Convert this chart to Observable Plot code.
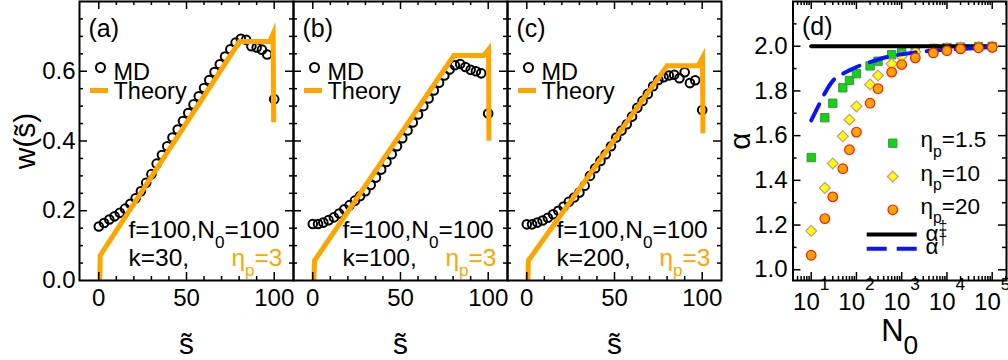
<!DOCTYPE html>
<html><head><meta charset="utf-8">
<script src="https://cdn.jsdelivr.net/npm/d3@7"></script>
<script src="https://cdn.jsdelivr.net/npm/@observablehq/plot@0.6"></script>
<style>
html,body{margin:0;padding:0;background:#fff;}
#chart{position:relative;width:1008px;height:360px;overflow:hidden;background:#fff;}
#chart svg{position:absolute;left:0;top:0;}
</style></head><body><div id="chart"></div>
<script>
// ---------- data: panels (a)-(c) ----------
const panelLetters = ["(a)", "(b)", "(c)"];
const kLabels = ["k=30,", "k=100,", "k=200,"];
const fLabel = "f=100,N_{0}=100";
const etaLabel = "η_{p}=3";
const legendMD = "MD";
const legendTheory = "Theory";

const sMD = [0,3,6,9,12,15,18,21,24,27,30,33,36,39,42,45,48,51,54,57,60,63,66,69,72,75,78,81,84,87,90,93,96,100];
const wMD_a = [0.155,0.165,0.175,0.184,0.194,0.206,0.220,0.236,0.256,0.280,0.305,0.335,0.360,0.385,0.410,0.433,0.457,0.480,0.505,0.528,0.552,0.575,0.598,0.620,0.642,0.663,0.682,0.693,0.690,0.672,0.668,0.662,0.648,0.520];
const wMD_b = [0.162,0.162,0.166,0.173,0.181,0.192,0.204,0.216,0.229,0.242,0.256,0.274,0.295,0.318,0.340,0.362,0.385,0.408,0.430,0.453,0.476,0.500,0.522,0.545,0.567,0.588,0.605,0.617,0.621,0.612,0.604,0.600,0.594,0.479];
const wMD_c = [0.161,0.161,0.166,0.172,0.180,0.190,0.200,0.212,0.226,0.238,0.252,0.272,0.300,0.322,0.343,0.362,0.385,0.410,0.430,0.448,0.470,0.495,0.515,0.535,0.557,0.575,0.583,0.588,0.590,0.580,0.597,0.566,0.574,0.489];

const sTh_a = [0.6, 0.8, 80.2, 97.5, 99.4, 99.7];
const wTh_a = [0.0, 0.072, 0.685, 0.685, 0.707, 0.454];
const sTh_b = [0.6, 1.0, 80.4, 97.5, 100.2, 100.4];
const wTh_b = [0.0, 0.057, 0.645, 0.645, 0.662, 0.401];
const sTh_c = [0.6, 0.9, 80.0, 97.8, 100.2, 100.4];
const wTh_c = [0.0, 0.057, 0.616, 0.616, 0.639, 0.422];

const sDomain = [-11, 111];
const wDomain = [0, 0.8];
const sTicksMajor = [0, 50, 100];
const sTicksMinor = [10, 20, 30, 40, 60, 70, 80, 90];
const wTicksMajor = [0, 0.2, 0.4, 0.6];
const wTicksMinor = [0.05,0.1,0.15,0.25,0.3,0.35,0.45,0.5,0.55,0.65,0.7,0.75];

// ---------- data: panel (d) ----------
const N0 = [10,20,30,50,70,100,200,300,600,1000,2000,5000,10000,20000,50000,100000];
const alpha_eta1_5 = [1.502,1.680,1.745,1.814,1.847,1.877,1.912,1.933,1.962,1.972,1.985,1.990,1.994,1.996,1.998,1.999];
const alpha_eta10  = [1.174,1.366,1.475,1.597,1.671,1.731,1.829,1.869,1.921,1.954,1.975,1.986,1.991,1.994,1.996,1.998];
const alpha_eta20  = [1.065,1.229,1.326,1.452,1.537,1.616,1.745,1.810,1.884,1.918,1.948,1.970,1.980,1.988,1.993,1.995];
const NddLine = [10, 100000];
const alphaDD = [2.0, 2.0];
const NdagLine = [10,15,20,30,50,70,100,200,500,1000,3000,10000,30000,100000];
const alphaDag = [1.668,1.740,1.790,1.845,1.877,1.892,1.907,1.929,1.953,1.964,1.976,1.984,1.990,1.996];
const legendD = ["η_{p}=1.5", "η_{p}=10", "η_{p}=20"];
const legendDD = "α^{‡}";
const legendDag = "α^{†}";
const nDomain = [3.96, 2.07e5];
const aDomain = [0.952, 2.2];
const nTicksMajor = [10, 100, 1000, 10000, 100000];
const nTickLabels = ["10^^{1}", "10^^{2}", "10^^{3}", "10^^{4}", "10^^{5}"];
const nTicksMinor = [5,6,7,8,9,20,30,40,50,60,70,80,90,200,300,400,500,600,700,800,900,2000,3000,4000,5000,6000,7000,8000,9000,20000,30000,40000,50000,60000,70000,80000,90000,200000];
const aTicksMajor = [1.0,1.2,1.4,1.6,1.8,2.0];
const aTicksMinor = [1.1,1.3,1.5,1.7,1.9,2.1];

// ---------- helpers ----------
const NS = "http://www.w3.org/2000/svg";
const FONT = "'Liberation Sans', Arial, Helvetica, sans-serif";
const ORANGE = "#ffa500";
const W = 1008, H = 360, TOP = 1, BOTTOM = 280;
const FH = BOTTOM - TOP;

function tickMarks(FW, xMaj, xMin, yMaj, yMin) {
  const st = {stroke: "black", strokeWidth: 1.5};
  const L = 8, l = 4;
  return [
    Plot.ruleX(xMaj, {x: d => d, insetTop: FH - L, ...st}),
    Plot.ruleX(xMaj, {x: d => d, insetBottom: FH - L, ...st}),
    Plot.ruleX(xMin, {x: d => d, insetTop: FH - l, ...st}),
    Plot.ruleX(xMin, {x: d => d, insetBottom: FH - l, ...st}),
    Plot.ruleY(yMaj, {y: d => d, insetRight: FW - L, ...st}),
    Plot.ruleY(yMaj, {y: d => d, insetLeft: FW - L, ...st}),
    Plot.ruleY(yMin, {y: d => d, insetRight: FW - l, ...st}),
    Plot.ruleY(yMin, {y: d => d, insetLeft: FW - l, ...st})
  ];
}

const baseStyle = {background: "transparent", fontFamily: FONT, fontSize: "24px", overflow: "visible", color: "black"};

function label(txt, opts) {
  return Plot.text([txt], {text: d => d, textAnchor: "start", lineAnchor: "middle", ...opts});
}

function wPanel(i, left, sTh, wTh, wMD) {
  const FW = 214;
  const md = sMD.map((s, j) => ({s, w: wMD[j]}));
  const th = sTh.map((s, j) => ({s, w: wTh[j]}));
  const marks = [
    Plot.dot(md, {x: "s", y: "w", r: 4.3, stroke: "black", strokeWidth: 2, fill: "none"}),
    Plot.line(th, {x: "s", y: "w", stroke: ORANGE, strokeWidth: 5, strokeLinejoin: "miter", strokeLinecap: "butt", strokeMiterlimit: 20}),
    ...tickMarks(FW, sTicksMajor, sTicksMinor, wTicksMajor.slice(1), wTicksMinor),
    Plot.frame({stroke: "black", strokeWidth: 2}),
    Plot.axisX({ticks: sTicksMajor, tickSize: 0, tickPadding: 8, fontSize: 24, label: null}),
    Plot.text(["s̃"], {text: d => d, frameAnchor: "bottom", dy: 73, lineAnchor: "bottom", fontSize: 30}),
    label(panelLetters[i], {frameAnchor: "top-left", dx: 9, dy: 27, fontSize: 25}),
    // legend
    Plot.dot([0], {x: null, y: null, frameAnchor: "top-left", dx: 21, dy: 66, r: 4.5, stroke: "black", strokeWidth: 2, fill: "none"}),
    label(legendMD, {frameAnchor: "top-left", dx: 34, dy: 71, fontSize: 23.5}),
    Plot.ruleY([wDomain[1]], {y: d => d, dy: 89, insetLeft: 11, insetRight: FW - 29, stroke: ORANGE, strokeWidth: 5}),
    label(legendTheory, {frameAnchor: "top-left", dx: 34, dy: 90, fontSize: 23.5}),
    // annotation
    Plot.text([fLabel], {text: d => d, frameAnchor: "bottom-left", dx: 49, dy: -43, textAnchor: "start", lineAnchor: "bottom", fontSize: 24.5}),
    Plot.text([kLabels[i]], {text: d => d, frameAnchor: "bottom-left", dx: 49, dy: -15, textAnchor: "start", lineAnchor: "bottom", fontSize: 24.5}),
    Plot.text([etaLabel], {text: d => d, frameAnchor: "bottom-right", dx: -11, dy: -15, textAnchor: "end", lineAnchor: "bottom", fontSize: 24.5, fill: ORANGE})
  ];
  if (i === 0) {
    marks.push(Plot.axisY({ticks: wTicksMajor, tickSize: 0, tickPadding: 4, tickFormat: d3.format(".1f"), fontSize: 24, label: null}));
    marks.push(Plot.text(["w(s̃)"], {text: d => d, frameAnchor: "left", dx: -54, rotate: -90, textAnchor: "middle", lineAnchor: "middle", fontSize: 30}));
  }
  return Plot.plot({
    width: W, height: H,
    marginLeft: left, marginRight: W - left - FW, marginTop: TOP, marginBottom: H - BOTTOM,
    x: {domain: sDomain, axis: null, label: null},
    y: {domain: wDomain, axis: null, label: null},
    style: baseStyle,
    marks
  });
}

function dPanel() {
  const left = 792.5, right = 1006;
  const FW = right - left;
  const rows = (arr) => N0.map((n, j) => ({n, a: arr[j]}));
  const dd = NddLine.map((n, j) => ({n, a: alphaDD[j]}));
  const dag = NdagLine.map((n, j) => ({n, a: alphaDag[j]}));
  const sq = {symbol: "square", r: 4.7, fill: "#14d214", stroke: "#3c963c", strokeWidth: 1};
  const di = {symbol: "diamond2", r: 4.9, fill: "#ffff00", stroke: "#c4988c", strokeWidth: 1.2};
  const ci = {symbol: "circle", r: 4.8, fill: "#ffa500", stroke: "#ff1a00", strokeWidth: 1.2};
  const rowDy = [138.7, 172, 205.3];
  const markDy = [141.7, 175, 208.3];
  const syms = [sq, di, ci];
  const marks = [
    Plot.dot(rows(alpha_eta1_5), {x: "n", y: "a", ...sq}),
    Plot.dot(rows(alpha_eta10), {x: "n", y: "a", ...di}),
    Plot.line(dd, {x: "n", y: "a", stroke: "black", strokeWidth: 4}),
    Plot.line(dag, {x: "n", y: "a", stroke: "#0a14ff", strokeWidth: 4, strokeDasharray: "18,11", curve: "monotone-x"}),
    Plot.dot(rows(alpha_eta20), {x: "n", y: "a", ...ci}),
    ...tickMarks(FW, nTicksMajor, nTicksMinor, aTicksMajor, aTicksMinor),
    Plot.frame({stroke: "black", strokeWidth: 2}),
    Plot.axisX({ticks: nTicksMajor, tickSize: 0, tickPadding: 12, fontSize: 24, label: null, tickFormat: d => nTickLabels[nTicksMajor.indexOf(d)]}),
    Plot.axisY({ticks: aTicksMajor, tickSize: 0, tickPadding: 5.5, fontSize: 24, label: null, tickFormat: d3.format(".1f")}),
    Plot.text(["N_{0}"], {text: d => d, frameAnchor: "bottom", dy: 60, lineAnchor: "bottom", fontSize: 31}),
    Plot.text(["α"], {text: d => d, frameAnchor: "left", dx: -52.5, rotate: -90, textAnchor: "middle", lineAnchor: "middle", fontSize: 30}),
    label("(d)", {frameAnchor: "top-left", dx: 9, dy: 25, fontSize: 25}),
    // legend
    ...legendD.map((t, j) => Plot.dot([0], {x: null, y: null, frameAnchor: "top-left", dx: 99.8, dy: markDy[j], ...syms[j]})),
    ...legendD.map((t, j) => label(t, {frameAnchor: "top-left", dx: 127.5, dy: rowDy[j], fontSize: 22.5})),
    Plot.ruleY([aDomain[1]], {y: d => d, dy: 233, insetLeft: 74.2, insetRight: 89.3, stroke: "black", strokeWidth: 4}),
    Plot.ruleY([aDomain[1]], {y: d => d, dy: 247.3, insetLeft: 74.2, insetRight: 89.3, stroke: "#0a14ff", strokeWidth: 4, strokeDasharray: "20,10"}),
    label(legendDD, {frameAnchor: "top-left", dx: 132.5, dy: 232, fontSize: 22.5}),
    label(legendDag, {frameAnchor: "top-left", dx: 132.5, dy: 245, fontSize: 22.5})
  ];
  return Plot.plot({
    width: W, height: H,
    marginLeft: left, marginRight: W - right, marginTop: TOP, marginBottom: H - BOTTOM,
    x: {type: "log", domain: nDomain, axis: null, label: null},
    y: {domain: aDomain, axis: null, label: null},
    style: baseStyle,
    marks
  });
}

function richify(svg) {
  svg.querySelectorAll("text").forEach(t => {
    const tsp = t.querySelectorAll("tspan");
    const leaves = tsp.length ? Array.from(tsp) : [t];
    leaves.forEach(el => {
      const s = el.textContent;
      if (!/[_^]\{/.test(s)) return;
      const fs = parseFloat(getComputedStyle(el).fontSize) || 24;
      const big = fs >= 28;
      el.textContent = "";
      const re = /(\^\^|\^|_)\{([^}]*)\}|([^_^]+)/g;
      let m, cur = 0;
      while ((m = re.exec(s))) {
        const ts = document.createElementNS(NS, "tspan");
        let target = 0;
        if (m[1]) {
          const scale = big ? 0.85 : (m[1] === "^^" ? 0.72 : 0.7);
          target = m[1] === "_" ? 0.42 * fs : m[1] === "^^" ? -0.8 * fs : -0.38 * fs;
          ts.textContent = m[2];
          ts.setAttribute("font-size", (fs * scale).toFixed(2));
        } else {
          ts.textContent = m[3];
        }
        const d = target - cur;
        if (Math.abs(d) > 1e-6) ts.setAttribute("dy", d.toFixed(2));
        cur = target;
        el.appendChild(ts);
      }
    });
  });
}

const chart = document.getElementById("chart");
const svgs = [
  wPanel(0, 79, sTh_a, wTh_a, wMD_a),
  wPanel(1, 293, sTh_b, wTh_b, wMD_b),
  wPanel(2, 507, sTh_c, wTh_c, wMD_c),
  dPanel()
];
svgs.forEach(s => chart.appendChild(s));
svgs.forEach(s => richify(s));
</script>
</body></html>
